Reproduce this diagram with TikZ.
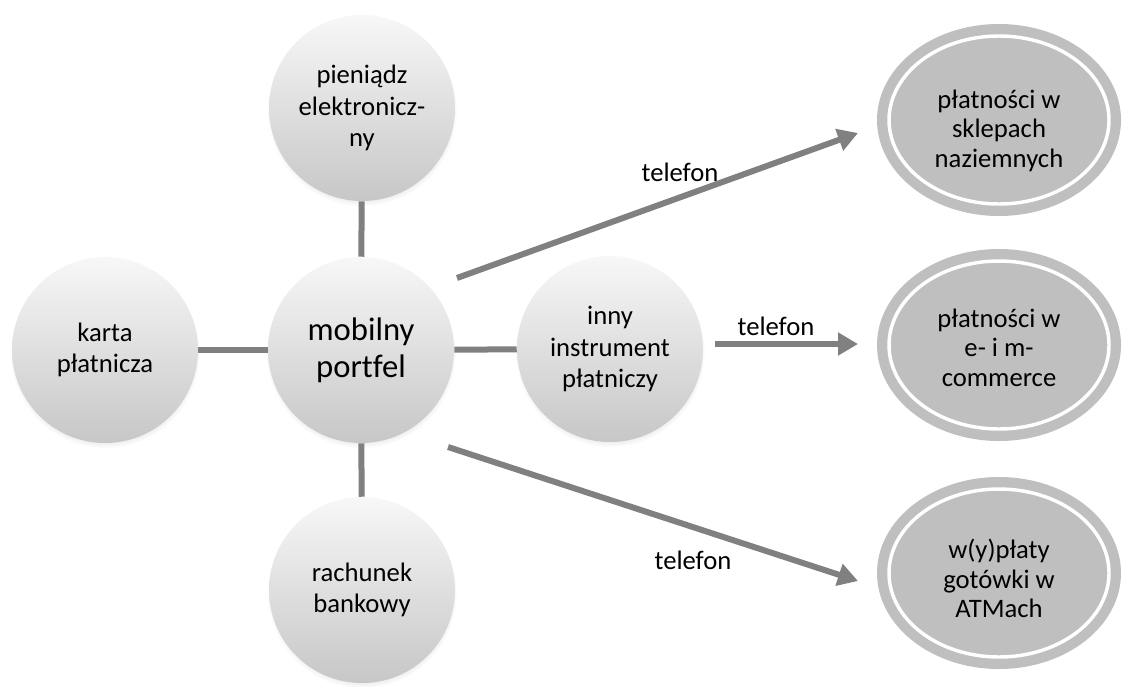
\documentclass[tikz,border=0pt]{standalone}
\usepackage{fontspec}
\setmainfont{Carlito}[Ligatures=CommonOff]
\usetikzlibrary{shadows,arrows.meta,shapes.geometric,calc}
\definecolor{ringgray}{RGB}{191,191,191}
\definecolor{linkgray}{RGB}{128,128,128}
\begin{document}
\begin{tikzpicture}[x=0.75pt,y=-0.75pt,
  bubble/.style={circle, minimum size=139.5pt, inner sep=0pt, align=center,
    top color=white!97!black, bottom color=white!78!black, draw=none,
    circular drop shadow={shadow xshift=0pt, shadow yshift=-2.5pt, shadow scale=1.02, opacity=0.3},
    font=\fontsize{20}{23.5}\selectfont},
  bigbubble/.style={bubble, font=\fontsize{24.5}{28}\selectfont},
  target/.style={ellipse, minimum width=183pt, minimum height=144pt, inner sep=0pt,
    fill=ringgray,
    path picture={\draw[white, line width=2.6pt] (path picture bounding box.center) ellipse (110 and 84);}},
  tgtext/.style={align=center, inner sep=0pt, font=\fontsize{20}{22}\selectfont},
  link/.style={draw=linkgray, line width=4.5pt},
  arr/.style={draw=linkgray, line width=4.5pt, -{Triangle[length=15pt,width=16.5pt]}},
  lbl/.style={font=\fontsize{20}{23}\selectfont, inner sep=0pt}
]
\useasboundingbox (0,0) rectangle (1123,686);

\node[bigbubble] (m) at (361,350) {mobilny\\portfel};
\node[bubble] (p) at (362,108) {pieniądz\\elektronicz-\\ny};
\node[bubble] (k) at (105,350) {karta\\płatnicza};
\node[bubble] (i) at (610,349) {inny\\instrument\\płatniczy};
\node[bubble] (r) at (362,590) {rachunek\\bankowy};

\node[target] (e1) at (999,120) {};
\node[target] (e2) at (999,345) {};
\node[target] (e3) at (999,573) {};
\node[tgtext] (e1t) at ([yshift=-8pt]e1.center) {płatności w\\sklepach\\naziemnych};
\node[tgtext] (e2t) at ([yshift=-2pt]e2.center) {płatności w\\e- i m-\\commerce};
\node[tgtext] (e3t) at ([yshift=-4pt]e3.center) {w(y)płaty\\gotówki w\\ATMach};

\draw[link] (p) -- (m);
\draw[link] (k) -- (m);
\draw[link] (m) -- (i);
\draw[link] (m) -- (r);

\coordinate (a1s) at ($(m.center)+(96,-72)$);
\coordinate (a1e) at ($(e1.center)+(-141,13)$);
\coordinate (a2s) at ($(i.center)+(105,-5)$);
\coordinate (a2e) at ($(e2.center)+(-141,-1)$);
\coordinate (a3s) at ($(m.center)+(87,97)$);
\coordinate (a3e) at ($(e3.center)+(-141,8)$);

\draw[arr] (a1s) -- (a1e);
\draw[arr] (a2s) -- (a2e);
\draw[arr] (a3s) -- (a3e);

\node[lbl] (t1) at (680,172) {telefon};
\node[lbl] (t2) at (776,326) {telefon};
\node[lbl] (t3) at (693,560) {telefon};
\end{tikzpicture}
\end{document}
